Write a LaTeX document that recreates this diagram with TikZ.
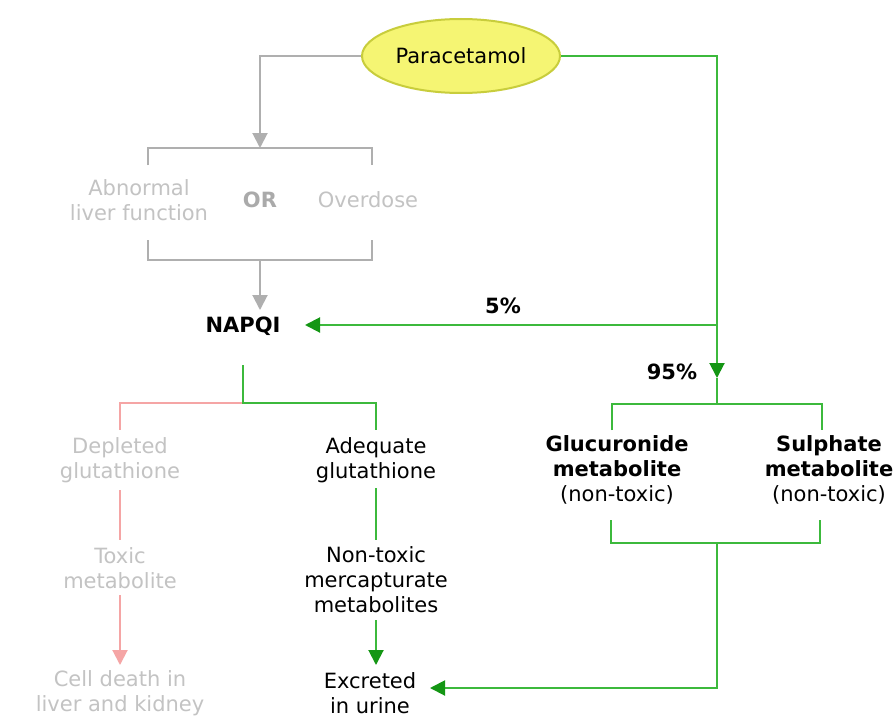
\documentclass[tikz,border=0pt]{standalone}
\usepackage{fontspec}
\setmainfont{DejaVu Sans}
\usetikzlibrary{arrows.meta,shapes.geometric}
\definecolor{lgreen}{RGB}{60,185,60}
\definecolor{dgreen}{RGB}{20,150,20}
\definecolor{lgrey}{RGB}{175,175,175}
\definecolor{tgrey}{RGB}{195,195,195}
\definecolor{orgrey}{RGB}{170,170,170}
\definecolor{lpink}{RGB}{245,165,165}
\definecolor{yfill}{RGB}{245,245,115}
\definecolor{ybord}{RGB}{200,205,60}
\begin{document}
\begin{tikzpicture}[x=1pt,y=-1pt,
  txt/.style={font=\fontsize{21}{25}\selectfont, align=center, inner sep=0pt},
  btxt/.style={txt, font=\fontsize{21}{25}\selectfont\bfseries},
  gline/.style={draw=lgreen, line width=2pt},
  grline/.style={draw=lgrey, line width=2pt},
  pline/.style={draw=lpink, line width=2pt},
  garrow/.style={gline, -{Triangle[width=15pt,length=15pt,color=dgreen]}},
  grarrow/.style={grline, -{Triangle[width=15pt,length=15pt,color=lgrey]}},
  parrow/.style={pline, -{Triangle[width=15pt,length=15pt,color=lpink]}}]
\useasboundingbox[fill=white] (0,0) rectangle (893,725);
% nodes
\node[ellipse, draw=ybord, fill=yfill, line width=2pt, minimum width=198pt, minimum height=74pt, txt] (para) at (461,56) {Paracetamol};
\node[txt, text=tgrey] (abn) at (139,200) {Abnormal\\liver function};
\node[btxt, text=orgrey] (or) at (260,200) {OR};
\node[txt, text=tgrey] (over) at (368,200) {Overdose};
\node[btxt] (napqi) at (243,326) {NAPQI};
\node[btxt] (five) at (503,306) {5\%};
\node[btxt] (nine) at (672,372) {95\%};
\node[txt, text=tgrey] (dep) at (120,460) {Depleted\\glutathione};
\node[txt] (ade) at (376,460) {Adequate\\glutathione};
\node[txt] (glu) at (617,470) {\textbf{Glucuronide}\\\textbf{metabolite}\\(non-toxic)};
\node[txt] (sul) at (829,470) {\textbf{Sulphate}\\\textbf{metabolite}\\(non-toxic)};
\node[txt, text=tgrey] (tox) at (120,568) {Toxic\\metabolite};
\node[txt] (nont) at (376,580) {Non-toxic\\mercapturate\\metabolites};
\node[txt] (exc) at (370,693) {Excreted\\in urine};
\node[txt, text=tgrey] (cell) at (120,693) {Cell death in\\liver and kidney};
% coordinates
\coordinate (gtop) at (260,148);
\coordinate (gtl) at (148,165);
\coordinate (gtr) at (372,165);
\coordinate (gbl) at (148,240);
\coordinate (gbr) at (372,240);
\coordinate (gbm) at (260,260);
\coordinate (napin) at (260,310);
\coordinate (rc) at (717,56);
\coordinate (rsplit) at (717,325);
\coordinate (napr) at (305,325);
\coordinate (r95) at (717,378);
\coordinate (rbm) at (717,404);
\coordinate (rbl) at (612,430);
\coordinate (rbr) at (822,430);
\coordinate (lbl) at (611,520);
\coordinate (lbr) at (820,520);
\coordinate (lbm) at (717,543);
\coordinate (exin) at (430,688);
\coordinate (nb) at (243,365);
\coordinate (nsplit) at (243,403);
\coordinate (adtop) at (376,430);
\coordinate (deptop) at (120,430);
\coordinate (adb) at (376,488);
\coordinate (ntt) at (376,540);
\coordinate (ntb) at (376,620);
\coordinate (exct) at (376,665);
\coordinate (depb) at (120,490);
\coordinate (toxt) at (120,540);
\coordinate (toxb) at (120,595);
\coordinate (cellt) at (120,665);
% grey connectors
\draw[grarrow] (para.west) -| (gtop);
\draw[grline] (gtl) |- (gtop) -| (gtr);
\draw[grline] (gbl) |- (gbm) -| (gbr);
\draw[grarrow] (gbm) -- (napin);
% green right
\draw[gline] (para.east) -- (rc) -- (rsplit);
\draw[garrow] (rsplit) -- (napr);
\draw[garrow] (rsplit) -- (r95);
\draw[gline] (r95) -- (rbm);
\draw[gline] (rbl) |- (rbm) -| (rbr);
\draw[gline] (lbl) |- (lbm) -| (lbr);
\draw[garrow] (lbm) |- (exin);
% NAPQI branches
\draw[pline] (nsplit) -| (deptop);
\draw[gline] (nb) -- (nsplit) -| (adtop);
\draw[gline] (adb) -- (ntt);
\draw[garrow] (ntb) -- (exct);
\draw[pline] (depb) -- (toxt);
\draw[parrow] (toxb) -- (cellt);
\end{tikzpicture}
\end{document}
